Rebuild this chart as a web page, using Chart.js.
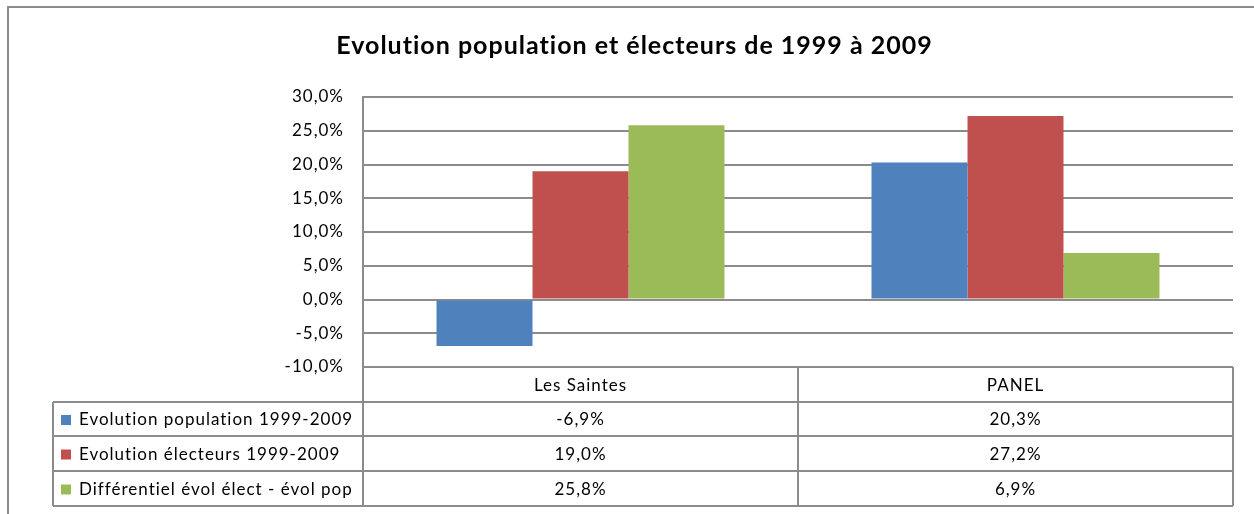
<!DOCTYPE html>
<html>
<head>
<meta charset="utf-8">
<script src="https://cdn.jsdelivr.net/npm/chart.js@4/dist/chart.umd.min.js"></script>
<style>
html,body{margin:0;padding:0;background:#fff;}
#wrap{width:1254px;height:514px;position:relative;}
</style>
</head>
<body>
<div id="wrap"><canvas id="c" width="1254" height="514"></canvas></div>
<script>
const categories = ["Les Saintes", "PANEL"];
const seriesNames = ["Evolution population 1999-2009", "Evolution électeurs 1999-2009", "Différentiel évol élect - évol pop"];
const popValues = [-6.9, 20.3];
const electValues = [19.0, 27.2];
const diffValues = [25.8, 6.9];
const seriesColors = ["#4F81BD", "#C0504D", "#9BBB59"];
const yTicks = [-10, -5, 0, 5, 10, 15, 20, 25, 30];

const FONT = "Lato, 'Open Sans', sans-serif";
const LINE = "#8C8C8C";
const fmt = v => v.toFixed(1).replace('.', ',') + '%';

const frame = {
  id: 'frame',
  beforeDraw(chart) {
    const ctx = chart.ctx;
    try { ctx.letterSpacing = '1px'; } catch (e) {}
    ctx.save();
    ctx.strokeStyle = LINE;
    ctx.lineWidth = 2;
    ctx.beginPath();
    ctx.moveTo(8, 520); ctx.lineTo(8, 7); ctx.lineTo(1260, 7);
    ctx.stroke();
    ctx.restore();
  }
};

const dataTable = {
  id: 'dataTable',
  afterDraw(chart) {
    const ctx = chart.ctx;
    const area = chart.chartArea;
    const xs = chart.scales.x;
    const n = categories.length;
    const colW = (area.right - area.left) / n;
    const tableLeft = 53;
    const rowTop = [area.bottom, 402, 436, 471, 506];
    ctx.save();
    try { ctx.letterSpacing = '1px'; } catch (e) {}
    ctx.strokeStyle = LINE;
    ctx.lineWidth = 2;
    ctx.beginPath();
    for (let r = 1; r < rowTop.length; r++) {
      ctx.moveTo(tableLeft, rowTop[r]); ctx.lineTo(area.right, rowTop[r]);
    }
    ctx.moveTo(tableLeft, rowTop[1]); ctx.lineTo(tableLeft, rowTop[4]);
    ctx.moveTo(area.left, area.top); ctx.lineTo(area.left, rowTop[4]);
    for (let i = 1; i <= n; i++) {
      const x = area.left + colW * i;
      ctx.moveTo(x, rowTop[0]); ctx.lineTo(x, rowTop[4]);
    }
    ctx.stroke();

    ctx.fillStyle = '#000';
    ctx.font = "17px " + FONT;
    ctx.textAlign = 'center';
    ctx.textBaseline = 'middle';
    categories.forEach((c, i) => {
      const cx = xs.getPixelForValue(i);
      ctx.fillText(c, cx, (rowTop[0] + rowTop[1]) / 2 + 1);
    });
    const series = [popValues, electValues, diffValues];
    series.forEach((vals, s) => {
      const cy = (rowTop[s + 1] + rowTop[s + 2]) / 2 + 1;
      vals.forEach((v, i) => {
        ctx.fillText(fmt(v), xs.getPixelForValue(i), cy);
      });
      ctx.fillStyle = seriesColors[s];
      ctx.fillRect(61, cy - 5, 10, 10);
      ctx.fillStyle = '#000';
      ctx.textAlign = 'left';
      ctx.fillText(seriesNames[s], 79, cy);
      ctx.textAlign = 'center';
    });
    ctx.restore();
  }
};

new Chart(document.getElementById('c'), {
  type: 'bar',
  data: {
    labels: categories,
    datasets: [
      { label: seriesNames[0], data: popValues, backgroundColor: seriesColors[0] },
      { label: seriesNames[1], data: electValues, backgroundColor: seriesColors[1] },
      { label: seriesNames[2], data: diffValues, backgroundColor: seriesColors[2] }
    ]
  },
  options: {
    responsive: false,
    animation: false,
    layout: { padding: { left: 36, right: 21, top: 0, bottom: 0 } },
    datasets: { bar: { categoryPercentage: 0.662, barPercentage: 1 } },
    plugins: {
      legend: { display: false },
      tooltip: { enabled: false },
      title: {
        display: true,
        text: "Evolution population et électeurs de 1999 à 2009",
        color: '#000',
        font: { family: FONT, size: 25, weight: 'bold' },
        padding: { top: 31, bottom: 36 }
      }
    },
    scales: {
      x: {
        ticks: { display: false },
        grid: { display: false },
        border: { display: false },
        afterFit(s) { s.height = 147; }
      },
      y: {
        min: -10, max: 30,
        afterBuildTicks(s) { s.ticks = yTicks.map(v => ({ value: v })); },
        ticks: {
          color: '#000',
          font: { family: FONT, size: 17 },
          padding: 19,
          callback: v => fmt(v)
        },
        grid: { color: LINE, lineWidth: 2, drawTicks: false },
        border: { display: true, color: LINE, width: 2 },
        afterFit(s) { s.width = 327; }
      }
    }
  },
  plugins: [frame, dataTable]
});
</script>
</body>
</html>
